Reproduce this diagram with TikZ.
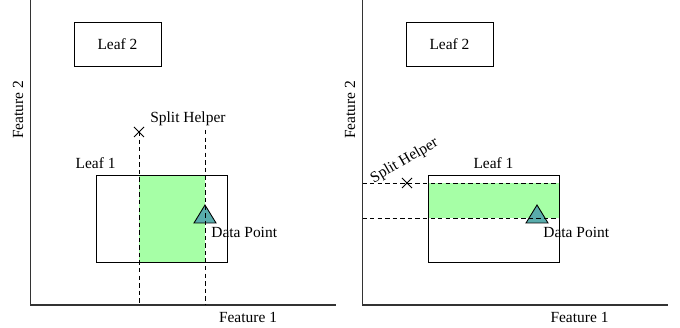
\documentclass[tikz,border=0pt]{standalone}
\usepackage{fontspec}
\setmainfont{Liberation Serif}

\begin{document}
\begin{tikzpicture}[font=\fontsize{8.8}{10.5}\selectfont,
  axis/.style={line width=0.6pt, color=black!80},
  leafbox/.style={draw, line width=0.5pt, inner sep=0pt},
  splitline/.style={dash pattern=on 2.5pt off 1.8pt, line width=0.5pt},
  helpermark/.style={line width=0.5pt},
  region/.style={fill=green!35},
  datapoint/.style={draw, fill=teal!65, line width=0.5pt}]

\useasboundingbox (0,0) rectangle (13.6,6.56);
\def\axlen{6.1}

% Left panel: split along feature 1
\begin{scope}[shift={(0.61,0.46)}]
% Draw the axes
\draw[axis] (0,\axlen) -- (0,0) -- (\axlen,0);
\node (featoneA) at (4.35,-0.24) {Feature 1};
\node[rotate=90] (feattwoA) at (-0.25,3.90) {Feature 2};

% region of the split
\fill[region] (2.17,0.86) rectangle (3.49,2.60);

% the leaves
\node[leafbox, minimum width=1.74cm, minimum height=0.88cm] (leaftwoA) at (1.74,5.22) {Leaf 2};
\node[leafbox, minimum width=2.62cm, minimum height=1.74cm] (leafoneA) at (2.62,1.73) {};
\node[above] (leafonelabA) at (leafoneA.north west) {Leaf 1};

% data point
\draw[datapoint] (3.27,1.64) -- (3.49,2.00) -- (3.71,1.64) -- cycle;
\node[anchor=west, inner sep=0pt] (dataA) at (3.61,1.46) {Data Point};

% split helper and split lines
\coordinate (helperA) at (2.17,3.46);
\draw[helpermark] (helperA) +(-0.1,-0.1) -- +(0.1,0.1) +(-0.1,0.1) -- +(0.1,-0.1);
\node[anchor=west, inner sep=0pt] (helperlabA) at (2.39,3.72) {Split Helper};
\draw[splitline] (helperA) -- (2.17,0);
\draw[splitline] (3.49,3.50) -- (3.49,0);
\end{scope}

% Right panel: split along feature 2
\begin{scope}[shift={(7.25,0.46)}]
% Draw the axes
\draw[axis] (0,\axlen) -- (0,0) -- (\axlen,0);
\node (featoneB) at (4.34,-0.24) {Feature 1};
\node[rotate=90] (feattwoB) at (-0.25,3.90) {Feature 2};

% region of the split
\fill[region] (1.31,1.74) rectangle (3.93,2.44);

% the leaves
\node[leafbox, minimum width=1.74cm, minimum height=0.88cm] (leaftwoB) at (1.74,5.22) {Leaf 2};
\node[leafbox, minimum width=2.62cm, minimum height=1.74cm] (leafoneB) at (2.62,1.73) {};
\node[above] (leafonelabB) at (leafoneB.north) {Leaf 1};

% data point
\draw[datapoint] (3.27,1.64) -- (3.49,2.00) -- (3.71,1.64) -- cycle;
\node[anchor=west, inner sep=0pt] (dataB) at (3.61,1.46) {Data Point};

% split helper and split lines
\coordinate (helperB) at (0.89,2.44);
\draw[helpermark] (helperB) +(-0.1,-0.1) -- +(0.1,0.1) +(-0.1,0.1) -- +(0.1,-0.1);
\node[rotate=30, inner sep=0pt] (helperlabB) at (0.84,2.88) {Split Helper};
\draw[splitline] (0,2.44) -- (leafoneB.east |- helperB);
\draw[splitline] (0,1.74) -- (3.93,1.74);
\end{scope}

\end{tikzpicture}
\end{document}
